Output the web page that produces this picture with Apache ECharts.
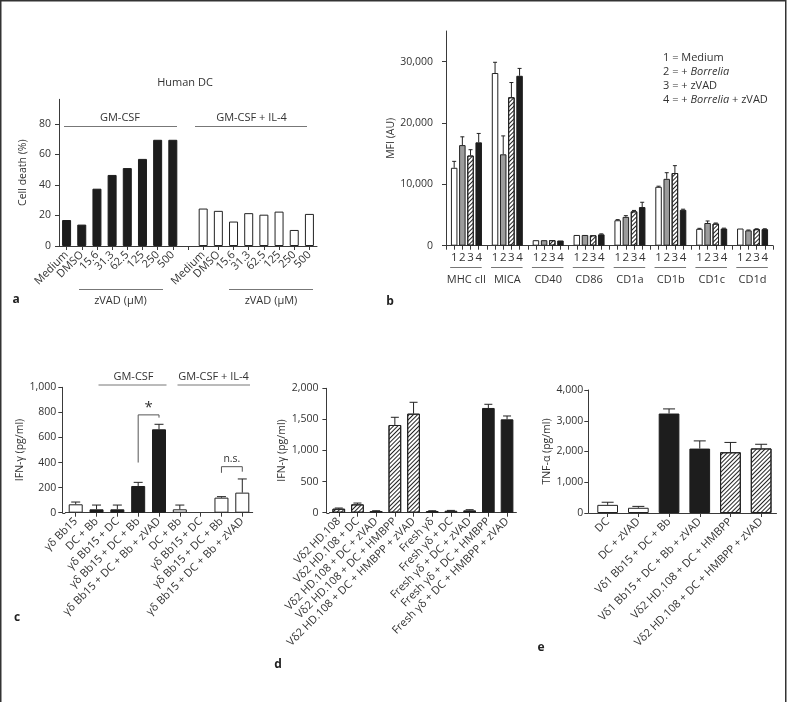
<!DOCTYPE html>
<html><head><meta charset="utf-8">
<script src="https://cdn.jsdelivr.net/npm/echarts@6/dist/echarts.min.js"></script>
<style>html,body{margin:0;padding:0;background:#fff}#c{width:787px;height:702px}</style>
</head><body><div id="c"></div>
<script>
// ---------- Panel a ----------
const aCats = ['Medium','DMSO','15.6','31.3','62.5','125','250','500','','Medium','DMSO','15.6','31.3','62.5','125','250','500'];
const aGMCSF = [17, 14, 37.5, 46.5, 51, 57, 69.5, 69.5];
const aGMCSFIL4 = [24.5, 23, 16, 21.5, 20.5, 22.5, 10.5, 21];
const aTicks = [0, 20, 40, 60, 80];

// ---------- Panel b ----------
const bGroups = ['MHC cII','MICA','CD40','CD86','CD1a','CD1b','CD1c','CD1d'];
const bMedium      = [12700, 28150, 900, 1750, 4150, 9600, 2750, 2800];
const bMediumErr   = [1050, 1750, 0, 0, 100, 100, 80, 0];
const bBorrelia    = [16400, 14900, 900, 1750, 4700, 10900, 3700, 2500];
const bBorreliaErr = [1350, 3000, 0, 0, 200, 1000, 330, 60];
const bZVAD        = [14700, 24200, 900, 1700, 5600, 11850, 3600, 2700];
const bZVADErr     = [950, 2400, 0, 0, 150, 1200, 100, 60];
const bBoth        = [16850, 27700, 850, 1850, 6300, 5850, 2800, 2700];
const bBothErr     = [1450, 1200, 0, 80, 780, 100, 60, 60];
const bTicks = [0, 10000, 20000, 30000];
const bLegend = ['1 = Medium', '2 = + {i|Borrelia}', '3 = + zVAD', '4 = + {i|Borrelia} + zVAD'];

// ---------- Panel c ----------
const cCats = ['γδ Bb15','DC + Bb','γδ Bb15 + DC','γδ Bb15 + DC + Bb','γδ Bb15 + DC + Bb + zVAD','DC + Bb','γδ Bb15 + DC','γδ Bb15 + DC + Bb','γδ Bb15 + DC + Bb + zVAD'];
const cValues = [67, 27, 27, 213, 665, 27, '-', 120, 160];
const cErr    = [18, 34, 34, 29, 40, 34, '-', 8, 109];
const cFill   = ['white','black','black','black','black','white','white','white','white'];
const cTicks = [0, 200, 400, 600, 800, 1000];
const cSig = [
  {from: 3, to: 4, top: 780, legL: 400, legR: 758, label: '*'},
  {from: 7, to: 8, top: 367, legL: 318, legR: 327, label: 'n.s.'}
];

// ---------- Panel d ----------
const dCats = ['Vδ2 HD.108','Vδ2 HD.108 + DC','Vδ2 HD.108 + DC + zVAD','Vδ2 HD.108 + DC + HMBPP','Vδ2 HD.108 + DC + HMBPP + zVAD','Fresh γδ','Fresh γδ + DC','Fresh γδ + DC + zVAD','Fresh γδ + DC + HMBPP','Fresh γδ + DC + HMBPP + zVAD'];
const dValues = [64, 134, 27, 1410, 1592, 27, 32, 38, 1684, 1501];
const dErr    = [11, 21, 5, 124, 183, 5, 5, 10, 59, 54];
const dFill   = ['hatch','hatch','hatch','hatch','hatch','black','black','black','black','black'];
const dTicks = [0, 500, 1000, 1500, 2000];

// ---------- Panel e ----------
const eCats = ['DC','DC + zVAD','Vδ1 Bb15 + DC + Bb','Vδ1 Bb15 + DC + Bb + zVAD','Vδ2 HD.108 + DC + HMBPP','Vδ2 HD.108 + DC + HMBPP + zVAD'];
const eValues = [265, 170, 3235, 2095, 1975, 2100];
const eErr    = [85, 45, 150, 250, 320, 135];
const eFill   = ['white','white','black','black','hatch','hatch'];
const eTicks = [0, 1000, 2000, 3000, 4000];

// ---------- styling ----------
const FONT = 'Open Sans';
const AX = '#3a3a3a';
const TXT = '#333';
const LINE = '#777';
const HATCH_DECAL = {symbol: 'rect', symbolSize: 1, dashArrayX: [1, 0], dashArrayY: [1, 2], rotation: -Math.PI / 4, color: '#222'};
const STYLES = {
  white: {color: '#fff', borderColor: '#222', borderWidth: 1},
  black: {color: '#1d1d1d', borderColor: '#1d1d1d', borderWidth: 1},
  gray:  {color: '#9c9c9c', borderColor: '#222', borderWidth: 1},
  hatch: {color: '#fff', borderColor: '#222', borderWidth: 1, decal: HATCH_DECAL}
};
const fmtNum = v => v.toLocaleString('en-US');

const chart = echarts.init(document.getElementById('c'));

const grids = [
  {left: 59, top: 99.3, width: 258, height: 146.7},
  {left: 446, top: 31, width: 327, height: 214.7},
  {left: 65.3, top: 387.3, width: 187.4, height: 125.4},
  {left: 329.4, top: 388.3, width: 187, height: 124.4},
  {left: 592.3, top: 390, width: 184.2, height: 123}
];
const yOffsets = [0, 0, 3, 3, 4];

function yAxisCfg(gi, max, ticks, name, nameGap, margin) {
  return {
    type: 'value', gridIndex: gi, min: 0, max: max, offset: yOffsets[gi],
    name: name, nameLocation: 'middle', nameGap: nameGap,
    nameTextStyle: {fontFamily: FONT, fontSize: 10.5, color: TXT},
    axisLine: {show: true, lineStyle: {color: AX, width: 1}},
    axisTick: {show: true, length: 4, lineStyle: {color: AX}, customValues: ticks},
    axisLabel: {fontFamily: FONT, fontSize: 10.5, color: TXT, margin: margin, customValues: ticks, formatter: v => fmtNum(v)},
    splitLine: {show: false}
  };
}
function xCatCfg(gi, data, rotate, margin, boundaryGap) {
  return {
    type: 'category', gridIndex: gi, data: data, boundaryGap: boundaryGap,
    axisLine: {show: true, onZero: false, lineStyle: {color: AX, width: 1}},
    axisTick: {show: true, length: 4, alignWithLabel: true, interval: 0, lineStyle: {color: AX}},
    axisLabel: {interval: 0, rotate: rotate, margin: margin, fontFamily: FONT, fontSize: 11, color: TXT},
    splitLine: {show: false}
  };
}

function errRender(capW) {
  return function (params, api) {
    const x = api.value(0), v = api.value(1), t = api.value(2);
    if (!(t > v)) return null;
    const p0 = api.coord([x, v]);
    const p1 = api.coord([x, t]);
    return {type: 'group', children: [
      {type: 'line', shape: {x1: p0[0], y1: p0[1], x2: p1[0], y2: p1[1]}, style: {stroke: '#222', lineWidth: 1}},
      {type: 'line', shape: {x1: p1[0] - capW / 2, y1: p1[1], x2: p1[0] + capW / 2, y2: p1[1]}, style: {stroke: '#222', lineWidth: 1}}
    ]};
  };
}
function errData(vals, errs, indexOf) {
  const out = [];
  vals.forEach((v, i) => {
    if (v === '-' || errs[i] === '-' || !errs[i]) return;
    out.push([indexOf(i), v, v + errs[i]]);
  });
  return out;
}

// ----- panel b category layout (5 slots per group: boundary, 1,2,3,4) -----
const bCats = [];
for (let i = 0; i <= bGroups.length * 5; i++) bCats.push(String(i));
const bLabel = idx => { const m = Number(idx) % 5; return m === 0 ? '' : String(m); };
const bSeriesVals = [bMedium, bBorrelia, bZVAD, bBoth];
const bSeriesErr = [bMediumErr, bBorreliaErr, bZVADErr, bBothErr];
const bSeriesStyle = ['white', 'gray', 'hatch', 'black'];
function bData(vals, k) {
  const arr = bCats.map(() => '-');
  vals.forEach((v, g) => { arr[g * 5 + k] = v; });
  return arr;
}

const xAxes = [
  xCatCfg(0, aCats, 45, 7, true),
  xCatCfg(1, bCats, 0, 6.5, false),
  xCatCfg(2, cCats, 45, 7, true),
  xCatCfg(3, dCats, 45, 7, true),
  xCatCfg(4, eCats, 45, 7, true)
];
xAxes[1].axisLabel.formatter = bLabel;
xAxes[1].axisLabel.fontSize = 11.5;

const yAxes = [
  yAxisCfg(0, 96, aTicks, 'Cell death (%)', 30, 8),
  yAxisCfg(1, 35000, bTicks, 'MFI (AU)', 46, 13),
  yAxisCfg(2, 1000, cTicks, 'IFN-γ (pg/ml)', 33, 6),
  yAxisCfg(3, 2000, dTicks, 'IFN-γ (pg/ml)', 35, 8),
  yAxisCfg(4, 4000, eTicks, 'TNF-α (pg/ml)', 34, 5)
];

const series = [];
// a
series.push({type: 'bar', xAxisIndex: 0, yAxisIndex: 0, barWidth: 9, barGap: '-100%', itemStyle: STYLES.black,
  data: aCats.map((c, i) => i < aGMCSF.length ? aGMCSF[i] : '-')});
series.push({type: 'bar', xAxisIndex: 0, yAxisIndex: 0, barWidth: 9, barGap: '-100%', itemStyle: STYLES.white,
  data: aCats.map((c, i) => i > aGMCSF.length ? aGMCSFIL4[i - aGMCSF.length - 1] : '-')});
// b
bSeriesVals.forEach((vals, s) => {
  series.push({type: 'bar', xAxisIndex: 1, yAxisIndex: 1, barWidth: 6.5, barGap: '-100%',
    itemStyle: STYLES[bSeriesStyle[s]], data: bData(vals, s + 1)});
});
bSeriesVals.forEach((vals, s) => {
  series.push({type: 'custom', xAxisIndex: 1, yAxisIndex: 1, z: 5, renderItem: errRender(4),
    data: errData(vals, bSeriesErr[s], g => g * 5 + s + 1)});
});
// c, d, e
function panelBars(ax, vals, fills, bw) {
  return {type: 'bar', xAxisIndex: ax, yAxisIndex: ax, barWidth: bw,
    data: vals.map((v, i) => ({value: v, itemStyle: STYLES[fills[i]]}))};
}
series.push(panelBars(2, cValues, cFill, 14));
series.push({type: 'custom', xAxisIndex: 2, yAxisIndex: 2, z: 5, renderItem: errRender(9), data: errData(cValues, cErr, i => i)});
series.push(panelBars(3, dValues, dFill, 12.7));
series.push({type: 'custom', xAxisIndex: 3, yAxisIndex: 3, z: 5, renderItem: errRender(8), data: errData(dValues, dErr, i => i)});
series.push(panelBars(4, eValues, eFill, 20.7));
series.push({type: 'custom', xAxisIndex: 4, yAxisIndex: 4, z: 5, renderItem: errRender(12), data: errData(eValues, eErr, i => i)});

chart.setOption({
  animation: false,
  textStyle: {fontFamily: FONT},
  grid: grids,
  xAxis: xAxes,
  yAxis: yAxes,
  series: series
});

// ---------- annotations ----------
const g = [];
function txt(x, y, text, opts) {
  g.push(Object.assign({type: 'text', x: x, y: y, style: Object.assign({text: text, fill: TXT, font: '11px "Open Sans"', align: 'center', verticalAlign: 'middle'}, opts || {})}));
}
function ln(x1, y1, x2, y2, color) {
  g.push({type: 'line', shape: {x1: x1, y1: y1, x2: x2, y2: y2}, style: {stroke: color || LINE, lineWidth: 1}});
}
// frame
g.push({type: 'rect', shape: {x: 0.75, y: 0.75, width: 785, height: 720}, style: {fill: 'none', stroke: '#333', lineWidth: 1.5}});

// close the gap between offset y-axes and x-axis lines (panels c, d, e)
[2, 3, 4].forEach(gi => {
  const y0 = chart.convertToPixel({yAxisIndex: gi}, 0);
  const left = grids[gi].left;
  g.push({type: 'line', shape: {x1: left - yOffsets[gi], y1: Math.round(y0) + 0.5, x2: left, y2: Math.round(y0) + 0.5}, style: {stroke: AX, lineWidth: 1}});
});

// panel a
txt(185, 83, 'Human DC');
txt(120, 117.5, 'GM-CSF');
ln(64, 126.5, 177, 126.5);
txt(251.5, 117.5, 'GM-CSF + IL-4');
ln(195, 126.5, 307, 126.5);
ln(79, 289.5, 163, 289.5);
txt(120.5, 300.5, 'zVAD (μM)');
ln(229, 289.5, 313, 289.5);
txt(271, 300.5, 'zVAD (μM)');
txt(16, 300, 'a', {font: 'bold 12px "Open Sans"', fill: '#222'});

// panel b
const bx = i => chart.convertToPixel({xAxisIndex: 1}, i);
bGroups.forEach((name, k) => {
  const x1 = bx(k * 5 + 1), x4 = bx(k * 5 + 4);
  ln(x1 - 4, 267.5, x4 + 3, 267.5);
  txt((x1 + x4) / 2, 280, name, {font: '11px "Open Sans"'});
});
bLegend.forEach((t, i) => {
  txt(663, 57.5 + i * 14, t, {align: 'left', rich: {i: {fontStyle: 'italic', font: 'italic 11px "Open Sans"', fill: TXT}}});
});
txt(390, 302, 'b', {font: 'bold 12px "Open Sans"', fill: '#222'});

// panel c
txt(133.5, 376.5, 'GM-CSF');
ln(98.5, 385, 166.5, 385);
txt(213.5, 376.5, 'GM-CSF + IL-4');
ln(177.5, 385, 250, 385);
cSig.forEach(s => {
  const xL = chart.convertToPixel({xAxisIndex: 2}, s.from);
  const xR = chart.convertToPixel({xAxisIndex: 2}, s.to);
  const yT = chart.convertToPixel({yAxisIndex: 2}, s.top);
  const yL = chart.convertToPixel({yAxisIndex: 2}, s.legL);
  const yR = chart.convertToPixel({yAxisIndex: 2}, s.legR);
  g.push({type: 'polyline', shape: {points: [[xL, yL], [xL, yT], [xR, yT], [xR, yR]]}, style: {stroke: '#555', lineWidth: 1, fill: null}});
  if (s.label === '*') txt((xL + xR) / 2, yT - 7, s.label, {font: '15px "Open Sans"'});
  else txt((xL + xR) / 2, yT - 7.5, s.label, {font: '10.5px "Open Sans"'});
});
txt(17, 618, 'c', {font: 'bold 12px "Open Sans"', fill: '#222'});
txt(278, 665, 'd', {font: 'bold 12px "Open Sans"', fill: '#222'});
txt(541, 648, 'e', {font: 'bold 12px "Open Sans"', fill: '#222'});

chart.setOption({graphic: {elements: g}});
</script>
</body></html>
